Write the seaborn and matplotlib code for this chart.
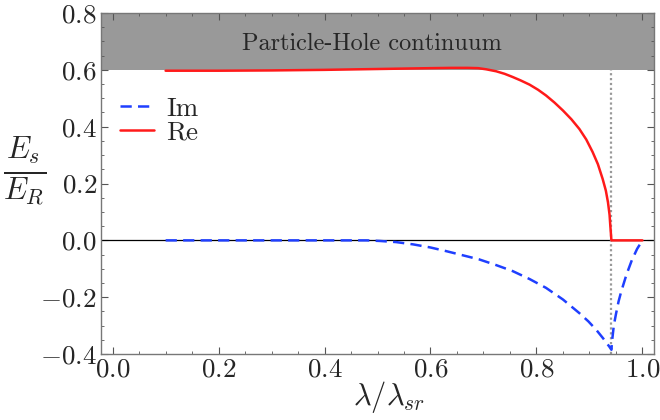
import numpy as np
import pandas as pd
import matplotlib
matplotlib.use("Agg")
import matplotlib.pyplot as plt
from matplotlib.ticker import MultipleLocator
import seaborn as sns

# Values
re_x = [0.1, 0.2, 0.3, 0.4, 0.5, 0.6, 0.64, 0.67, 0.69, 0.705, 0.724, 0.74,
        0.755, 0.77, 0.787, 0.803, 0.818, 0.834, 0.85, 0.866, 0.881, 0.894,
        0.906, 0.916, 0.925, 0.931, 0.935, 0.938, 0.9395, 0.9415, 1.0]
re_y = [0.597, 0.597, 0.598, 0.600, 0.603, 0.606, 0.607, 0.607, 0.606, 0.602,
        0.595, 0.586, 0.575, 0.563, 0.548, 0.530, 0.51, 0.485, 0.457, 0.426,
        0.392, 0.355, 0.311, 0.268, 0.216, 0.175, 0.134, 0.09, 0.05, 0.0, 0.0]

im_x = [0.1, 0.48, 0.504, 0.535, 0.567, 0.6, 0.63, 0.66, 0.692, 0.724, 0.755,
        0.787, 0.818, 0.85, 0.881, 0.898, 0.913, 0.926, 0.938, 0.9415, 0.943,
        0.946, 0.95, 0.955, 0.96, 0.97, 0.98, 0.99, 1.0]
im_y = [0.0, 0.0, -0.002, -0.006, -0.014, -0.025, -0.038, -0.052, -0.067,
        -0.087, -0.108, -0.136, -0.167, -0.208, -0.256, -0.285, -0.315,
        -0.345, -0.375, -0.385, -0.35, -0.30, -0.26, -0.215, -0.18, -0.12,
        -0.07, -0.03, 0.0]

continuum = (0.6, 0.8)
critical_x = 0.9415
band_label = "Particle-Hole continuum"
x_ticks = [0.0, 0.2, 0.4, 0.6, 0.8, 1.0]
y_ticks = [-0.4, -0.2, 0.0, 0.2, 0.4, 0.6, 0.8]

sns.set_style("ticks")
plt.rcParams["font.family"] = ["cmr10", "DejaVu Serif"]
plt.rcParams["mathtext.fontset"] = "cm"
plt.rcParams["axes.unicode_minus"] = False

fig = plt.figure(figsize=(6.6, 4.2), dpi=100)
ax = fig.add_axes([0.153, 0.157, 0.838, 0.812])

ax.axhspan(continuum[0], continuum[1], color="#999999", lw=0, zorder=0)
ax.axhline(0, color="black", lw=0.9, zorder=1)
ax.axvline(critical_x, color="#999999", lw=1.6, ls=(0, (1, 1.2)), zorder=1)

df_im = pd.DataFrame({"x": im_x, "y": im_y})
df_re = pd.DataFrame({"x": re_x, "y": re_y})
sns.lineplot(data=df_im, x="x", y="y", ax=ax, color="#1f3fff", lw=1.8,
             sort=False, label="Im", zorder=3)
ax.lines[-1].set_dashes((4.5, 2.5))
sns.lineplot(data=df_re, x="x", y="y", ax=ax, color="#ff1a1a", lw=1.8,
             sort=False, label="Re", zorder=3)

ax.text(0.49, 0.69, band_label, ha="center", va="center", fontsize=17.5)

ax.set_xlim(-0.022, 1.022)
ax.set_ylim(-0.4, 0.8)
ax.set_xticks(x_ticks)
ax.set_yticks(y_ticks)
ax.set_xticklabels([f"${t:.1f}$" for t in x_ticks])
ax.set_yticklabels([f"${t:.1f}$" for t in y_ticks])
ax.xaxis.set_minor_locator(MultipleLocator(0.05))
ax.yaxis.set_minor_locator(MultipleLocator(0.05))
ax.tick_params(which="both", direction="in", top=True, right=True,
               color="#555555", labelsize=19.5)
ax.tick_params(which="major", length=5, width=0.8, pad=3)
ax.tick_params(which="minor", length=2.5, width=0.6)
for s in ax.spines.values():
    s.set_color("#777777")
    s.set_linewidth(1.0)

ax.set_xlabel(r"$\lambda/\lambda_{sr}$", fontsize=22, va="center")
ax.xaxis.set_label_coords(0.52, -0.125)
ax.set_ylabel(r"$\frac{E_s}{E_R}$", fontsize=32, rotation=0, va="center")
ax.yaxis.set_label_coords(-0.137, 0.535)

ax.legend(loc="upper left", bbox_to_anchor=(0.0, 0.81), frameon=False,
          fontsize=19.5, handlelength=1.25, handletextpad=0.45,
          labelspacing=0.0, borderaxespad=0.3)

fig.savefig("out.png", dpi=100)
